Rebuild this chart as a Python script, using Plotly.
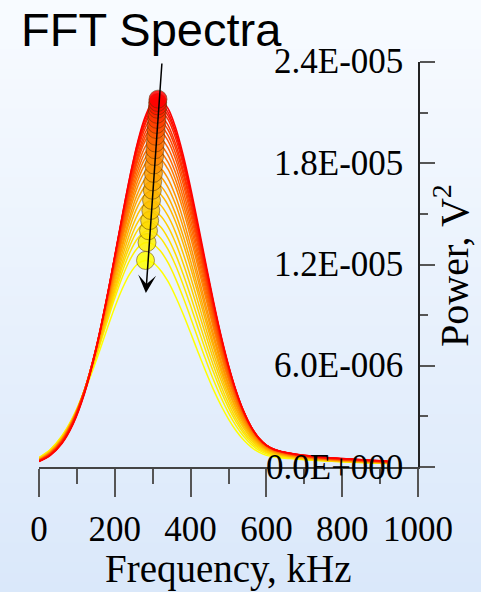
import plotly.graph_objects as go

W, H = 481, 592

# frequency grid of the spectra, kHz
freq_khz = [0, 30, 60, 90, 120, 150, 180, 200, 220, 240, 260, 280, 300, 320, 340, 360, 380, 400, 420, 440,
            460, 480, 500, 520, 540, 560, 580, 600, 620, 640, 660, 700, 760, 840, 920]

# spectra, power in units of 1e-8 V^2 (first = red, last = yellow)
s01 = [32, 69, 137, 254, 434, 688, 1010, 1249, 1493, 1724, 1924, 2075, 2162, 2177, 2126, 2015, 1854, 1656, 1436, 1209, 988, 783, 604, 452, 330, 237, 171, 128, 105, 92, 83, 70, 57, 45, 35]
s02 = [33, 71, 141, 259, 441, 695, 1015, 1253, 1493, 1721, 1916, 2062, 2144, 2156, 2103, 1991, 1831, 1635, 1417, 1193, 975, 774, 597, 448, 328, 236, 170, 128, 104, 91, 83, 69, 56, 45, 34]
s03 = [33, 71, 141, 259, 440, 692, 1009, 1244, 1482, 1706, 1899, 2043, 2125, 2136, 2084, 1975, 1817, 1624, 1410, 1189, 974, 775, 599, 451, 331, 238, 172, 130, 105, 91, 82, 68, 55, 44, 33]
s04 = [35, 73, 144, 264, 446, 698, 1014, 1247, 1482, 1703, 1891, 2030, 2107, 2115, 2061, 1951, 1794, 1603, 1392, 1174, 962, 766, 593, 446, 328, 237, 172, 129, 104, 91, 81, 67, 54, 43, 33]
s05 = [36, 75, 147, 267, 450, 701, 1014, 1244, 1475, 1690, 1873, 2007, 2079, 2084, 2028, 1918, 1763, 1575, 1367, 1153, 945, 753, 584, 440, 324, 234, 170, 128, 104, 90, 80, 66, 53, 42, 32]
s06 = [36, 75, 147, 266, 446, 695, 1003, 1229, 1456, 1667, 1847, 1979, 2050, 2054, 2000, 1892, 1741, 1556, 1353, 1143, 939, 750, 583, 440, 325, 236, 171, 129, 104, 90, 80, 66, 52, 41, 31]
s07 = [37, 77, 149, 269, 450, 697, 1002, 1225, 1447, 1654, 1829, 1955, 2022, 2023, 1967, 1860, 1710, 1528, 1328, 1123, 923, 737, 573, 434, 321, 233, 170, 128, 103, 89, 79, 64, 51, 40, 31]
s08 = [38, 79, 152, 272, 453, 699, 1001, 1220, 1439, 1641, 1810, 1931, 1993, 1992, 1934, 1827, 1679, 1500, 1304, 1102, 906, 725, 564, 428, 317, 230, 168, 127, 102, 88, 78, 63, 50, 39, 30]
s09 = [39, 80, 154, 274, 454, 697, 995, 1209, 1422, 1619, 1782, 1897, 1955, 1950, 1892, 1786, 1640, 1465, 1273, 1077, 886, 709, 552, 419, 311, 227, 165, 125, 101, 87, 77, 62, 49, 39, 29]
s10 = [39, 81, 155, 276, 454, 695, 988, 1198, 1405, 1596, 1753, 1863, 1916, 1909, 1850, 1745, 1601, 1430, 1243, 1051, 865, 693, 540, 411, 305, 223, 163, 123, 99, 85, 75, 61, 48, 38, 29]
s11 = [40, 83, 157, 277, 455, 693, 980, 1186, 1388, 1572, 1724, 1829, 1877, 1868, 1808, 1704, 1563, 1395, 1212, 1026, 844, 677, 528, 402, 299, 219, 160, 121, 98, 84, 74, 60, 47, 37, 28]
s12 = [41, 84, 158, 278, 454, 689, 972, 1173, 1370, 1548, 1694, 1794, 1838, 1826, 1766, 1663, 1525, 1361, 1182, 1000, 824, 661, 517, 394, 293, 215, 157, 119, 96, 83, 73, 59, 46, 36, 27]
s13 = [43, 86, 162, 283, 458, 691, 967, 1163, 1352, 1523, 1660, 1752, 1789, 1773, 1711, 1607, 1471, 1311, 1137, 961, 791, 634, 495, 377, 281, 206, 151, 115, 93, 80, 71, 57, 45, 35, 27]
s14 = [43, 87, 162, 282, 455, 682, 952, 1142, 1325, 1489, 1620, 1706, 1740, 1722, 1659, 1558, 1425, 1270, 1102, 931, 767, 615, 481, 367, 274, 201, 148, 112, 91, 78, 69, 56, 44, 34, 26]
s15 = [45, 89, 166, 285, 457, 682, 945, 1129, 1305, 1462, 1584, 1663, 1690, 1668, 1604, 1503, 1372, 1221, 1058, 894, 735, 590, 461, 351, 262, 193, 142, 108, 88, 76, 67, 55, 43, 33, 25]
s16 = [45, 90, 165, 284, 453, 672, 929, 1106, 1276, 1426, 1543, 1616, 1640, 1617, 1554, 1455, 1328, 1181, 1023, 864, 712, 571, 447, 341, 255, 188, 138, 106, 86, 74, 66, 53, 42, 32, 25]
s17 = [46, 91, 167, 285, 451, 666, 914, 1084, 1246, 1387, 1496, 1562, 1580, 1554, 1489, 1392, 1268, 1126, 975, 823, 677, 543, 424, 324, 242, 178, 132, 101, 83, 72, 64, 52, 41, 32, 24]
s18 = [47, 93, 169, 285, 449, 658, 898, 1061, 1215, 1347, 1448, 1506, 1519, 1490, 1426, 1330, 1209, 1072, 927, 782, 642, 515, 403, 307, 230, 169, 125, 96, 79, 69, 62, 50, 39, 31, 23]
s19 = [50, 96, 173, 289, 452, 656, 888, 1044, 1189, 1312, 1402, 1452, 1457, 1425, 1358, 1263, 1145, 1013, 874, 735, 603, 482, 377, 287, 214, 158, 117, 90, 75, 66, 59, 48, 38, 30, 23]
s20 = [52, 99, 177, 293, 453, 653, 876, 1024, 1160, 1273, 1354, 1396, 1395, 1359, 1291, 1197, 1082, 955, 821, 689, 564, 451, 352, 268, 200, 147, 109, 85, 70, 62, 56, 47, 37, 29, 22]
s21 = [55, 103, 182, 298, 456, 650, 862, 1001, 1126, 1228, 1298, 1329, 1321, 1281, 1212, 1118, 1007, 885, 759, 635, 518, 413, 321, 244, 182, 134, 100, 78, 65, 58, 53, 45, 36, 28, 21]
s22 = [56, 104, 181, 293, 444, 625, 821, 947, 1058, 1146, 1203, 1224, 1211, 1168, 1101, 1012, 908, 795, 679, 566, 460, 366, 284, 215, 160, 118, 88, 69, 59, 54, 50, 43, 35, 27, 21]
spectra = [s01, s02, s03, s04, s05, s06, s07, s08, s09, s10, s11, s12, s13, s14, s15, s16, s17, s18, s19, s20, s21, s22]

# peak of each spectrum (kHz, units of 1e-8 V^2)
peak_freq = [314, 313, 313, 312, 311, 311, 310, 309, 308, 307, 306, 305, 303, 302, 300, 299, 297, 295, 292, 289, 285, 281]
peak_power = [2180, 2160, 2140, 2120, 2090, 2060, 2030, 2000, 1960, 1920, 1880,
              1840, 1790, 1740, 1690, 1640, 1580, 1520, 1460, 1400, 1330, 1224]

x_ticks = [0, 200, 400, 600, 800, 1000]
x_minor = [100, 300, 500, 700, 900]
y_ticks = [0, 6e-6, 1.2e-5, 1.8e-5, 2.4e-5]
y_labels = ["0.0E+000", "6.0E-006", "1.2E-005", "1.8E-005", "2.4E-005"]
y_minor = [3e-6, 9e-6, 1.5e-5, 2.1e-5]

UNIT = 1e-8
N = len(spectra)


def col(i):
    t = i / (N - 1)
    return f"rgb(255,{round(255 * t)},0)"


fig = go.Figure()

# light vertical gradient background
top = (248, 251, 255)
bot = (218, 232, 250)
ns = 60
for k in range(ns):
    u = k / (ns - 1)
    c = tuple(round(bot[j] + (top[j] - bot[j]) * u) for j in range(3))
    fig.add_shape(type="rect", xref="paper", yref="paper", x0=0, x1=1,
                  y0=k / ns, y1=(k + 1) / ns + 0.003, fillcolor=f"rgb{c}",
                  line_width=0, layer="below")

for i in reversed(range(N)):
    fig.add_trace(go.Scatter(x=freq_khz, y=[v * UNIT for v in spectra[i]], mode="lines",
                             line=dict(color=col(i), width=1.5, shape="spline"),
                             hoverinfo="skip", showlegend=False))

order = list(reversed(range(N)))
fig.add_trace(go.Scatter(x=[peak_freq[i] for i in order], y=[peak_power[i] * UNIT for i in order],
                         mode="markers",
                         marker=dict(size=18, color=[col(i) for i in order], opacity=0.85,
                                     line=dict(color="rgba(90,50,0,0.6)", width=1)),
                         showlegend=False, hoverinfo="skip"))

serif = "Liberation Serif"
annotations = [
    dict(text="FFT Spectra", xref="paper", yref="paper", x=19 / W, y=1 - 30 / H, xanchor="left",
         yanchor="middle", showarrow=False, font=dict(family="Liberation Sans", size=47, color="black")),
    dict(text="Frequency, kHz", xref="paper", yref="paper", x=228 / W, y=1 - 569 / H, xanchor="center",
         yanchor="middle", showarrow=False, font=dict(family=serif, size=39, color="black")),
    dict(text="Power, V<sup>2</sup>", xref="paper", yref="paper", x=451 / W, y=1 - 266 / H, xanchor="center",
         yanchor="middle", textangle=-90, showarrow=False, font=dict(family=serif, size=40, color="black")),
    dict(text="", x=282, y=1.031e-5, ax=324.5, ay=2.4e-5, xref="x", yref="y", axref="x", ayref="y",
         showarrow=True, arrowhead=3, arrowsize=2, arrowwidth=1.5, arrowcolor="black"),
]
for v, lab in zip(y_ticks, y_labels):
    annotations.append(dict(text=lab, xref="x", yref="y", x=1000, y=v, xanchor="right", yanchor="middle",
                            xshift=-13, showarrow=False, font=dict(family=serif, size=35, color="black")))

fig.update_layout(
    width=W, height=H, margin=dict(l=0, r=0, t=0, b=0),
    paper_bgcolor="rgba(0,0,0,0)", plot_bgcolor="rgba(0,0,0,0)",
    xaxis=dict(domain=[39 / W, 418 / W], range=[0, 1000], tickvals=x_ticks,
               ticks="outside", ticklen=28, tickwidth=2, tickcolor="#555", ticklabeloverflow="allow",
               ticklabelstandoff=2,
               showline=True, linecolor="#444", linewidth=2, showgrid=False, zeroline=False,
               minor=dict(tickvals=x_minor, ticks="outside", ticklen=15, tickwidth=2, tickcolor="#555"),
               tickfont=dict(family=serif, size=35, color="black"), automargin=False),
    yaxis=dict(domain=[(H - 467) / H, (H - 62) / H], range=[0, 2.4e-5], side="right",
               tickvals=y_ticks, showticklabels=False,
               ticks="outside", ticklen=15, tickwidth=2, tickcolor="#555",
               showline=True, linecolor="#222", linewidth=2, showgrid=False, zeroline=False,
               minor=dict(tickvals=y_minor, ticks="outside", ticklen=8, tickwidth=2, tickcolor="#555"),
               automargin=False),
    annotations=annotations,
)

fig.write_html("out.html", config={"displayModeBar": False},
               post_script="document.body.style.margin='0px';")
